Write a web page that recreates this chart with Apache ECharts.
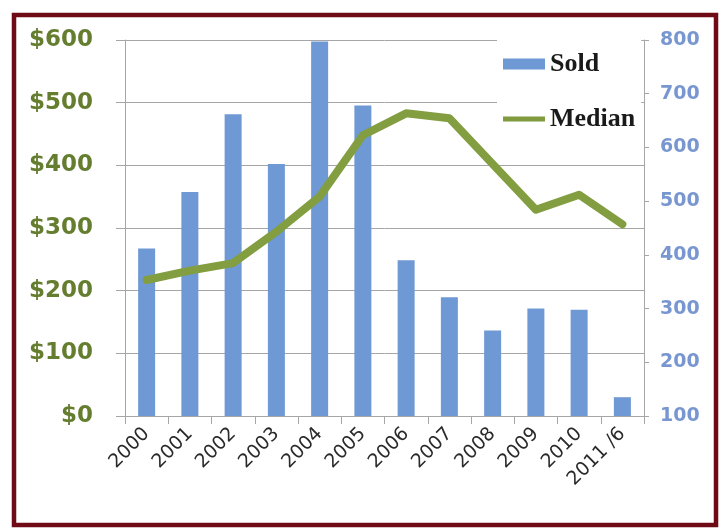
<!DOCTYPE html>
<html>
<head>
<meta charset="utf-8">
<script src="https://cdn.jsdelivr.net/npm/echarts@6/dist/echarts.min.js"></script>
<style>
html,body{margin:0;padding:0;background:#fff;}
#chart{width:723px;height:531px;}
</style>
</head>
<body>
<div id="chart"></div>
<script>
const categories = ['2000','2001','2002','2003','2004','2005','2006','2007','2008','2009','2010','2011 /6'];
const soldValues = [412, 517, 662, 569, 797, 678, 390, 321, 259, 300, 298, 135];
const medianValues = [217, 232, 244, 294, 350, 448, 483, 475, 402, 329, 353, 306];
const leftTicks = {min: 0, max: 600, interval: 100};
const rightTicks = {min: 100, max: 800, interval: 100};

const chart = echarts.init(document.getElementById('chart'));
const gridGray = '#a6a6a6';
chart.setOption({
  animation: false,
  backgroundColor: '#fff',
  graphic: [{
    type: 'rect', z: 100,
    shape: {x: 14, y: 15, width: 702, height: 510},
    style: {fill: 'none', stroke: '#6e0b16', lineWidth: 4.5}
  }],
  grid: {left: 125, right: 79, top: 40, bottom: 115, containLabel: false},
  legend: {
    orient: 'vertical',
    left: 497, top: 38,
    padding: [13, 6, 10, 6],
    backgroundColor: '#fff',
    itemWidth: 42, itemHeight: 11, itemGap: 29,
    symbolKeepAspect: true,
    textStyle: {fontFamily: 'Liberation Serif', fontWeight: 'bold', fontSize: 26, color: '#1a1a1a'},
    data: [
      {name: 'Sold', icon: 'rect'},
      {name: 'Median', icon: 'path://M0,0L42,0L42,5L0,5Z', itemStyle: {color: '#7f9b3d'}}
    ]
  },
  xAxis: {
    type: 'category',
    data: categories,
    boundaryGap: true,
    axisLine: {lineStyle: {color: gridGray, width: 1}},
    axisTick: {show: true, length: 8, alignWithLabel: false, lineStyle: {color: gridGray}},
    axisLabel: {interval: 0, rotate: 45, margin: 15, fontFamily: 'DejaVu Sans', fontSize: 19, color: '#2a2a2a'}
  },
  yAxis: [{
    type: 'value',
    min: leftTicks.min, max: leftTicks.max, interval: leftTicks.interval,
    position: 'left',
    axisLine: {show: true, lineStyle: {color: gridGray}},
    axisTick: {show: true, length: 9, lineStyle: {color: gridGray}},
    splitLine: {show: true, lineStyle: {color: gridGray, width: 1}},
    axisLabel: {margin: 32, formatter: v => '$' + v, fontFamily: 'DejaVu Sans', fontWeight: 'bold', fontSize: 23, color: '#657d2f'}
  }, {
    type: 'value',
    min: rightTicks.min, max: rightTicks.max, interval: rightTicks.interval,
    position: 'right',
    axisLine: {show: true, lineStyle: {color: gridGray}},
    axisTick: {show: true, length: 5, lineStyle: {color: gridGray}},
    splitLine: {show: false},
    axisLabel: {margin: 16, fontFamily: 'DejaVu Sans', fontWeight: 'bold', fontSize: 19, color: '#7896d0'}
  }],
  series: [{
    name: 'Sold',
    type: 'bar',
    yAxisIndex: 1,
    data: soldValues,
    barWidth: 17,
    itemStyle: {color: '#6f99d4'}
  }, {
    name: 'Median',
    type: 'line',
    yAxisIndex: 0,
    data: medianValues,
    symbol: 'none',
    lineStyle: {width: 8, color: '#829e40', join: 'round', cap: 'round'},
    itemStyle: {color: '#829e40'},
    z: 5
  }]
});
</script>
</body>
</html>
